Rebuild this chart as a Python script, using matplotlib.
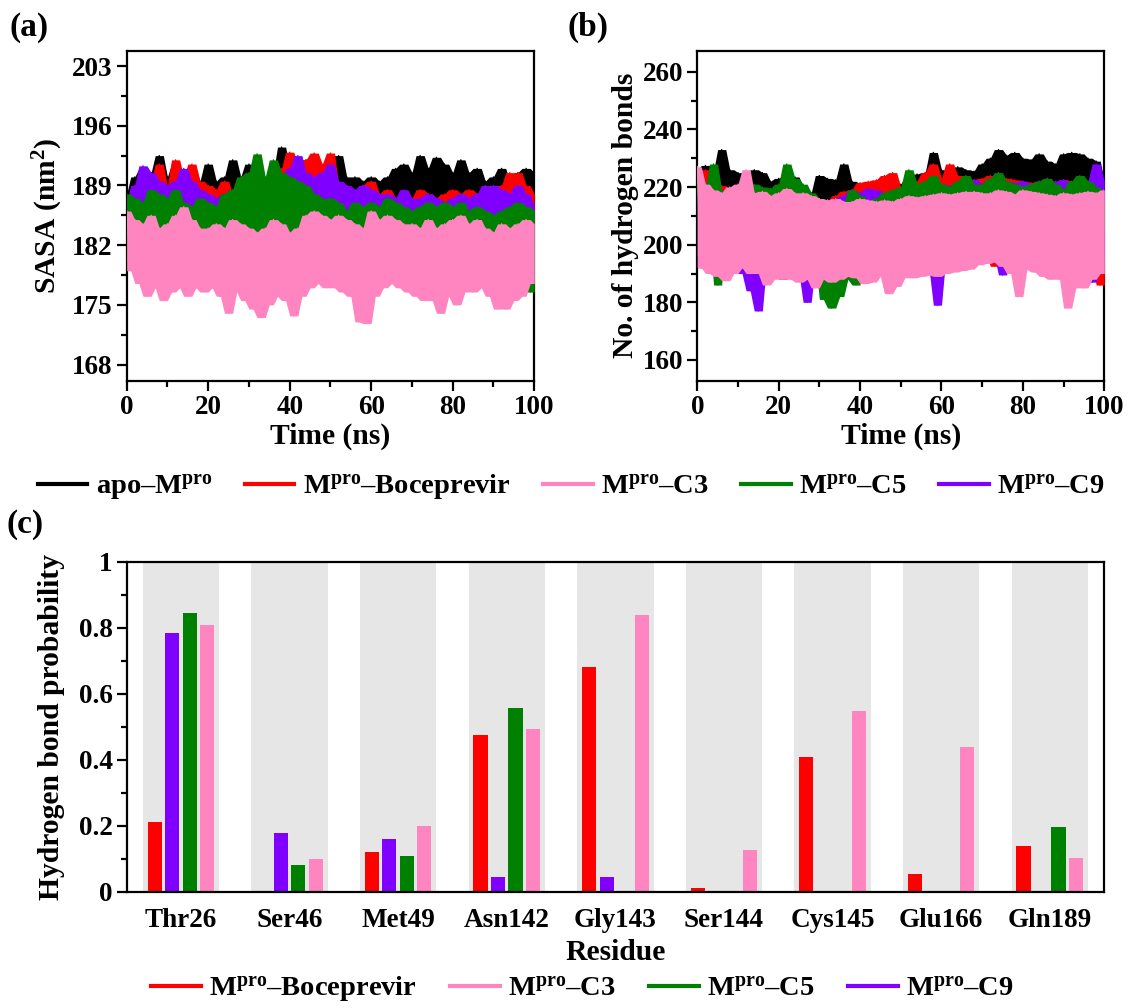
import numpy as np
import matplotlib
matplotlib.use("Agg")
import matplotlib.pyplot as plt
from matplotlib.ticker import MultipleLocator
from matplotlib.lines import Line2D

plt.rcParams["font.family"] = ["Liberation Serif", "DejaVu Serif"]
plt.rcParams["font.weight"] = "bold"
plt.rcParams["axes.labelweight"] = "bold"
plt.rcParams["mathtext.fontset"] = "custom"
plt.rcParams["mathtext.rm"] = "Liberation Serif:bold"
plt.rcParams["mathtext.bf"] = "Liberation Serif:bold"
plt.rcParams["mathtext.it"] = "Liberation Serif:bold:italic"

# ---- data -------------------------------------------------------------
time_ns = np.arange(0, 101)  # one sample per ns

# (a) SASA (nm^2), samples alternate upper / lower edge of each trace
sasa_apo = [
    188.0, 185.0, 190.0, 185.5, 191.0, 186.0, 190.5, 185.5, 192.5, 186.0,
    190.0, 186.0, 191.5, 186.5, 190.0, 186.0, 191.0, 186.0, 189.5, 185.5,
    191.5, 186.0, 189.5, 186.0, 190.0, 186.0, 192.0, 185.5, 190.0, 186.0,
    191.5, 186.0, 189.0, 185.5, 189.5, 185.0, 190.5, 184.5, 193.5, 185.0,
    191.0, 184.5, 190.5, 185.5, 192.0, 185.5, 190.0, 186.0, 190.5, 186.0,
    189.5, 186.0, 192.5, 186.0, 190.0, 186.5, 190.0, 186.0, 189.5, 186.0,
    190.0, 186.5, 189.5, 186.0, 190.0, 186.5, 191.0, 186.5, 191.5, 187.0,
    190.5, 186.5, 192.5, 187.0, 191.0, 186.5, 192.3, 187.0, 191.5, 186.5,
    190.5, 186.5, 192.0, 186.0, 190.5, 186.5, 191.0, 186.0, 189.5, 186.0,
    190.0, 186.0, 191.0, 185.5, 189.5, 186.0, 190.5, 186.0, 191.0, 186.0,
    190.5,
]
sasa_boc = [
    186.0, 180.0, 189.0, 183.0, 190.0, 183.5, 189.5, 183.0, 191.5, 183.5,
    189.0, 183.5, 192.0, 184.0, 190.0, 183.0, 191.5, 183.5, 189.5, 184.0,
    189.0, 184.5, 188.5, 184.0, 189.5, 184.5, 188.0, 183.5, 188.5, 184.0,
    188.0, 183.5, 188.5, 183.0, 189.0, 183.5, 190.5, 184.0, 191.0, 184.5,
    192.9, 185.0, 191.5, 185.0, 192.0, 185.5, 192.8, 185.0, 191.5, 186.0,
    192.8, 184.5, 189.0, 184.0, 188.5, 183.5, 188.0, 183.0, 189.0, 181.0,
    189.5, 183.0, 188.0, 183.5, 188.5, 183.0, 187.5, 177.5, 188.0, 183.0,
    187.5, 183.5, 188.5, 184.0, 188.0, 183.5, 187.5, 184.0, 188.0, 183.5,
    188.5, 183.5, 188.0, 183.0, 188.5, 183.5, 188.0, 183.0, 188.5, 182.5,
    188.0, 183.0, 189.0, 183.5, 190.5, 184.0, 190.5, 184.5, 189.0, 184.0,
    188.0,
]
sasa_c9 = [
    187.0, 183.5, 189.0, 184.0, 191.3, 184.5, 190.5, 184.5, 189.5, 184.0,
    189.0, 184.0, 189.5, 184.5, 191.0, 184.5, 189.5, 184.0, 188.5, 183.5,
    188.0, 183.5, 187.5, 183.0, 188.0, 183.0, 188.5, 182.5, 188.0, 182.5,
    188.5, 182.0, 188.0, 182.5, 189.0, 183.0, 190.0, 182.0, 189.5, 183.0,
    191.0, 183.5, 192.5, 184.0, 190.5, 184.5, 190.0, 184.0, 190.5, 184.5,
    191.5, 184.5, 189.5, 184.0, 189.0, 184.0, 188.5, 183.5, 189.0, 183.5,
    188.5, 183.5, 188.0, 183.0, 188.0, 183.5, 187.5, 183.5, 188.5, 183.0,
    187.5, 183.0, 187.5, 183.5, 188.0, 183.0, 187.5, 183.5, 187.0, 183.0,
    187.5, 183.0, 188.0, 183.5, 187.5, 183.0, 188.0, 183.5, 189.0, 183.0,
    189.0, 183.5, 188.5, 184.0, 188.0, 183.5, 189.0, 183.5, 188.0, 183.0,
    186.5,
]
sasa_c5 = [
    188.0, 181.0, 187.5, 178.5, 187.0, 176.5, 188.5, 180.0, 188.0, 179.5,
    187.5, 180.0, 188.5, 179.0, 187.0, 176.5, 186.5, 178.5, 187.5, 180.0,
    187.0, 178.0, 186.5, 181.5, 188.0, 182.0, 188.5, 182.5, 190.0, 181.0,
    190.5, 181.5, 192.7, 182.5, 190.0, 181.5, 192.0, 183.0, 190.5, 183.0,
    190.0, 182.0, 189.5, 183.0, 189.0, 182.5, 188.0, 182.0, 187.5, 181.0,
    187.5, 180.0, 187.0, 179.5, 186.0, 180.5, 187.0, 180.0, 186.5, 180.0,
    187.0, 180.5, 186.5, 180.5, 187.5, 181.0, 187.0, 181.5, 186.5, 181.0,
    186.0, 181.0, 186.5, 180.5, 187.0, 181.0, 186.5, 180.5, 187.0, 181.5,
    186.5, 180.5, 187.0, 181.0, 186.0, 180.0, 186.5, 180.5, 186.0, 181.0,
    185.5, 180.5, 186.0, 181.5, 186.5, 181.0, 187.0, 180.5, 186.5, 176.5,
    186.0,
]
sasa_c3 = [
    186.0, 179.0, 185.0, 177.5, 184.5, 176.0, 185.5, 177.0, 184.0, 175.5,
    184.5, 176.5, 185.5, 177.0, 186.5, 176.0, 185.0, 177.0, 184.0, 176.5,
    184.0, 177.0, 184.5, 176.0, 184.0, 174.0, 185.0, 176.5, 184.5, 175.5,
    184.0, 174.5, 183.5, 173.5, 184.0, 175.0, 185.0, 176.0, 184.5, 175.5,
    183.5, 173.7, 184.0, 176.0, 185.5, 177.0, 186.0, 177.5, 185.5, 177.0,
    185.0, 177.0, 185.5, 176.5, 185.0, 176.0, 184.5, 173.0, 184.0, 172.8,
    186.0, 176.0, 185.0, 177.0, 185.5, 177.5, 185.0, 177.0, 184.5, 176.5,
    184.5, 176.0, 184.0, 175.5, 185.0, 175.5, 184.0, 174.0, 184.5, 176.0,
    185.0, 175.0, 185.5, 176.5, 184.5, 176.5, 185.0, 177.0, 184.0, 176.0,
    183.5, 174.5, 184.5, 174.5, 184.0, 175.5, 184.5, 176.0, 185.0, 177.5,
    184.5,
]

# (b) number of hydrogen bonds
hb_apo = [
    226.0, 215.0, 227.5, 216.0, 225.5, 216.0, 233.0, 215.5, 226.0, 216.0,
    225.0, 215.5, 224.5, 215.0, 226.0, 215.0, 225.0, 214.5, 222.0, 214.0,
    223.0, 214.5, 224.0, 214.0, 223.5, 213.5, 220.0, 212.0, 218.0, 212.5,
    224.0, 212.0, 223.0, 213.0, 222.5, 213.5, 228.0, 213.5, 222.0, 213.0,
    221.0, 213.5, 220.0, 214.0, 221.0, 213.5, 220.5, 214.0, 219.5, 214.5,
    221.0, 215.0, 223.5, 215.5, 224.5, 216.0, 225.0, 216.5, 232.0, 217.0,
    226.0, 217.0, 225.0, 217.5, 227.0, 218.0, 226.0, 218.0, 225.5, 218.5,
    228.0, 219.0, 230.0, 219.5, 233.0, 219.5, 231.0, 220.0, 232.0, 219.5,
    230.0, 219.0, 229.5, 219.0, 231.5, 218.5, 229.0, 218.5, 228.0, 219.0,
    231.5, 219.0, 232.0, 219.0, 231.5, 218.5, 230.0, 218.0, 229.0, 218.5,
    222.0,
]
hb_boc = [
    220.0, 196.0, 226.0, 197.0, 222.0, 196.0, 220.5, 195.0, 219.0, 196.0,
    218.0, 195.5, 219.5, 196.0, 219.0, 196.0, 218.5, 196.5, 217.0, 192.0,
    218.0, 188.0, 219.0, 190.0, 218.5, 193.0, 217.0, 194.0, 216.0, 193.5,
    214.0, 189.0, 215.0, 187.5, 217.0, 190.0, 218.5, 193.0, 219.0, 194.0,
    221.5, 194.5, 222.0, 195.0, 222.5, 195.5, 224.0, 196.0, 225.0, 197.0,
    220.0, 197.0, 221.0, 197.5, 222.0, 198.0, 225.0, 198.0, 228.0, 198.5,
    223.0, 199.0, 228.0, 199.5, 224.0, 199.0, 223.0, 199.5, 222.5, 199.0,
    223.0, 197.0, 224.0, 192.5, 223.5, 193.0, 223.0, 196.0, 222.5, 196.5,
    222.0, 196.0, 221.5, 196.5, 222.0, 196.0, 223.0, 195.5, 221.0, 195.0,
    222.5, 195.0, 222.0, 195.5, 221.5, 196.0, 222.0, 194.0, 221.0, 186.0,
    215.0,
]
hb_c9 = [
    221.0, 192.0, 220.0, 193.0, 219.5, 196.0, 218.0, 195.0, 219.0, 193.0,
    218.5, 190.0, 218.0, 184.0, 217.5, 177.0, 218.0, 193.0, 217.0, 195.0,
    217.5, 194.5, 218.0, 193.0, 216.5, 190.0, 217.0, 180.0, 215.0, 193.0,
    214.0, 194.0, 215.5, 194.0, 216.0, 193.0, 217.0, 193.5, 219.0, 194.0,
    218.0, 193.5, 219.5, 194.0, 219.0, 190.0, 217.5, 183.5, 216.0, 193.0,
    217.5, 194.5, 218.0, 193.0, 219.0, 192.0, 219.5, 191.0, 220.0, 179.0,
    221.0, 194.5, 220.5, 195.0, 221.0, 195.5, 222.0, 196.0, 222.5, 196.0,
    221.0, 196.5, 223.0, 196.0, 222.5, 189.5, 222.0, 195.0, 221.5, 195.5,
    222.0, 195.5, 221.0, 195.0, 222.0, 194.5, 221.5, 195.0, 222.0, 194.0,
    222.5, 193.0, 221.0, 194.5, 223.0, 193.5, 222.0, 187.0, 228.0, 193.0,
    222.0,
]
hb_c5 = [
    222.0, 196.0, 220.0, 205.0, 228.0, 186.0, 219.0, 204.0, 218.0, 206.0,
    217.0, 207.0, 219.0, 208.0, 221.0, 205.0, 220.0, 209.0, 219.5, 207.0,
    221.0, 195.0, 228.0, 196.0, 223.0, 198.0, 221.0, 192.0, 218.0, 195.0,
    216.0, 181.0, 212.0, 178.0, 213.0, 182.0, 214.0, 188.0, 219.0, 186.0,
    217.0, 200.0, 215.0, 201.0, 216.0, 199.0, 218.0, 203.0, 219.0, 204.0,
    220.0, 205.0, 226.0, 204.0, 221.0, 199.0, 222.0, 205.0, 224.0, 197.0,
    221.0, 200.0, 220.0, 207.0, 222.0, 209.0, 224.0, 205.0, 221.0, 206.0,
    221.0, 198.0, 223.0, 206.0, 225.0, 206.0, 222.0, 204.0, 221.0, 207.0,
    220.0, 205.0, 221.0, 203.0, 222.0, 198.0, 223.0, 197.0, 221.0, 205.0,
    219.0, 202.0, 222.0, 203.0, 224.0, 201.0, 222.0, 207.0, 220.0, 205.0,
    214.0,
]
hb_c3 = [
    227.0, 192.0, 221.0, 190.0, 219.0, 189.0, 218.0, 187.5, 220.0, 190.0,
    221.0, 192.0, 226.0, 190.0, 218.0, 190.0, 218.5, 186.0, 217.0, 188.0,
    218.0, 188.0, 219.5, 188.0, 218.0, 187.0, 218.0, 188.0, 217.0, 185.0,
    216.0, 188.0, 215.5, 187.0, 216.0, 188.0, 215.0, 189.0, 215.0, 188.5,
    216.0, 186.5, 215.5, 187.0, 215.0, 189.0, 215.5, 183.0, 215.0, 185.5,
    216.0, 188.5, 217.0, 188.5, 216.5, 189.0, 217.0, 189.5, 217.5, 189.0,
    218.0, 190.0, 217.5, 190.5, 218.0, 191.0, 218.5, 191.5, 218.5, 193.0,
    218.0, 193.5, 218.0, 194.0, 219.0, 192.5, 218.5, 190.0, 217.5, 182.0,
    219.0, 191.5, 218.5, 190.5, 218.0, 189.0, 217.5, 188.0, 217.0, 188.0,
    218.0, 178.0, 217.5, 185.0, 218.0, 185.0, 218.5, 188.0, 218.0, 190.0,
    219.0,
]

# (c) hydrogen bond probability per residue
residues = ["Thr26", "Ser46", "Met49", "Asn142", "Gly143",
            "Ser144", "Cys145", "Glu166", "Gln189"]
prob_boc = [0.211, 0.0, 0.121, 0.474, 0.680, 0.011, 0.409, 0.053, 0.138]
prob_c9 = [0.783, 0.178, 0.159, 0.044, 0.043, 0.0, 0.0, 0.0, 0.003]
prob_c5 = [0.843, 0.081, 0.108, 0.557, 0.0, 0.0, 0.0, 0.0, 0.195]
prob_c3 = [0.808, 0.098, 0.198, 0.493, 0.838, 0.125, 0.546, 0.437, 0.101]

# ---- styling ----------------------------------------------------------
C_APO, C_BOC, C_C3, C_C5, C_C9 = "#000000", "#FF0000", "#FF85C0", "#008000", "#8000FF"
LBL_APO = r"apo–M$^{\mathrm{pro}}$"
LBL_BOC = r"M$^{\mathrm{pro}}$–Boceprevir"
LBL_C3 = r"M$^{\mathrm{pro}}$–C3"
LBL_C5 = r"M$^{\mathrm{pro}}$–C5"
LBL_C9 = r"M$^{\mathrm{pro}}$–C9"
TICK_FS, LABEL_FS, LEG_FS, PANEL_FS = 19.5, 21.3, 20.5, 24


def _style(ax):
    for side in ("left", "bottom", "right", "top"):
        ax.spines[side].set_linewidth(1.6)
    ax.tick_params(which="major", direction="out", length=7, width=1.6,
                   labelsize=TICK_FS, top=False, right=False, pad=3)
    ax.tick_params(which="minor", direction="out", length=4, width=1.6,
                   top=False, right=False)


def _trace(ax, ys, color, z):
    """Noisy MD trace: the thin line plus the band it sweeps between
    neighbouring frames, so the dense look of the original survives."""
    y = np.asarray(ys)
    pad = np.r_[y[0], y, y[-1]]
    win = np.vstack([pad[:-2], pad[1:-1], pad[2:]])
    ax.fill_between(time_ns, win.min(axis=0), win.max(axis=0),
                    color=color, lw=0, zorder=z)
    ax.plot(time_ns, y, color=color, lw=1.0, zorder=z + 0.5)


fig = plt.figure(figsize=(11.29, 10.08), dpi=100)

# (a)
ax_a = fig.add_axes([0.1122, 0.6223, 0.3610, 0.3274])
for k, (ys, c) in enumerate(((sasa_apo, C_APO), (sasa_boc, C_BOC), (sasa_c9, C_C9),
                             (sasa_c5, C_C5), (sasa_c3, C_C3))):
    _trace(ax_a, ys, c, 2 + k)
ax_a.set_xlim(0, 100)
ax_a.set_ylim(166.1, 204.8)
ax_a.xaxis.set_major_locator(MultipleLocator(20))
ax_a.xaxis.set_minor_locator(MultipleLocator(10))
ax_a.set_yticks([168, 175, 182, 189, 196, 203])
ax_a.yaxis.set_minor_locator(MultipleLocator(3.5))
ax_a.set_xlabel("Time (ns)", fontsize=LABEL_FS, labelpad=2)
ax_a.set_ylabel(r"SASA (nm$^{2}$)", fontsize=LABEL_FS, labelpad=5)
_style(ax_a)

# (b)
ax_b = fig.add_axes([0.6176, 0.6223, 0.3605, 0.3274])
for k, (ys, c) in enumerate(((hb_apo, C_APO), (hb_boc, C_BOC), (hb_c9, C_C9),
                             (hb_c5, C_C5), (hb_c3, C_C3))):
    _trace(ax_b, ys, c, 2 + k)
ax_b.set_xlim(0, 100)
ax_b.set_ylim(152.8, 267.3)
ax_b.xaxis.set_major_locator(MultipleLocator(20))
ax_b.xaxis.set_minor_locator(MultipleLocator(10))
ax_b.yaxis.set_major_locator(MultipleLocator(20))
ax_b.yaxis.set_minor_locator(MultipleLocator(10))
ax_b.set_xlabel("Time (ns)", fontsize=LABEL_FS, labelpad=2)
ax_b.set_ylabel("No. of hydrogen bonds", fontsize=LABEL_FS, labelpad=3)
_style(ax_b)

# (c)
ax_c = fig.add_axes([0.1122, 0.1154, 0.8657, 0.3274])
xpos = np.arange(len(residues))
for xi in xpos:
    ax_c.axvspan(xi - 0.352, xi + 0.352, color="#E6E6E6", lw=0, zorder=0)
bw, step = 0.13, 0.161
for k, (vals, c) in enumerate(((prob_boc, C_BOC), (prob_c9, C_C9),
                               (prob_c5, C_C5), (prob_c3, C_C3))):
    ax_c.bar(xpos + (k - 1.5) * step, vals, width=bw, color=c, zorder=2)
ax_c.set_xlim(-0.5, len(residues) - 0.5)
ax_c.set_ylim(0, 1)
ax_c.set_xticks(xpos)
ax_c.set_xticklabels(residues)
ax_c.yaxis.set_minor_locator(MultipleLocator(0.1))
ax_c.set_yticks([0, 0.2, 0.4, 0.6, 0.8, 1])
ax_c.set_yticklabels(["0", "0.2", "0.4", "0.6", "0.8", "1"])
ax_c.set_xlabel("Residue", fontsize=LABEL_FS, labelpad=4)
ax_c.set_ylabel("Hydrogen bond probability", fontsize=LABEL_FS, labelpad=10)
_style(ax_c)
ax_c.tick_params(axis="x", length=0, pad=12)

# legends
top_handles = [Line2D([], [], color=c, lw=3) for c in (C_APO, C_BOC, C_C3, C_C5, C_C9)]
fig.legend(top_handles, [LBL_APO, LBL_BOC, LBL_C3, LBL_C5, LBL_C9],
           loc="center", bbox_to_anchor=(0.506, 0.516), ncol=5, frameon=False,
           fontsize=LEG_FS, handlelength=1.75, handletextpad=0.3, columnspacing=1.12)
bot_handles = [Line2D([], [], color=c, lw=3) for c in (C_BOC, C_C3, C_C5, C_C9)]
fig.legend(bot_handles, [LBL_BOC, LBL_C3, LBL_C5, LBL_C9],
           loc="center", bbox_to_anchor=(0.516, 0.018), ncol=4, frameon=False,
           fontsize=LEG_FS, handlelength=1.75, handletextpad=0.3, columnspacing=1.15)

# panel tags
fig.text(0.008, 0.973, "(a)", fontsize=PANEL_FS, va="center", ha="left")
fig.text(0.503, 0.973, "(b)", fontsize=PANEL_FS, va="center", ha="left")
fig.text(0.006, 0.480, "(c)", fontsize=PANEL_FS, va="center", ha="left")

fig.savefig("out.png", dpi=100)
